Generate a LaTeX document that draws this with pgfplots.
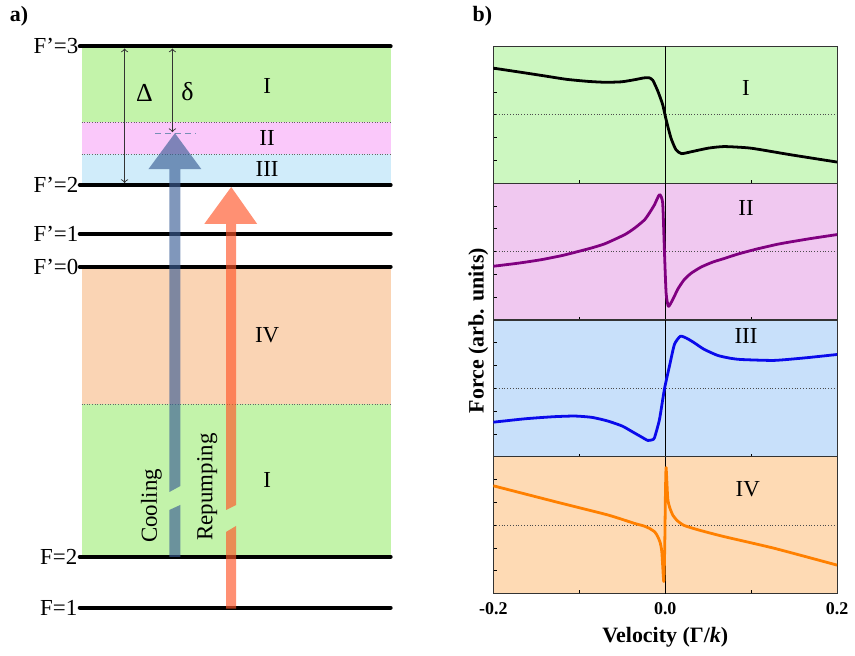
\documentclass[border=0pt]{standalone}
\usepackage{pgfplots}
\pgfplotsset{compat=1.18}
\usepackage{fontspec}
\setmainfont{Liberation Serif}
\definecolor{lgreen}{RGB}{195,243,170}
\definecolor{lpink}{RGB}{250,200,250}
\definecolor{lblue}{RGB}{208,236,250}
\definecolor{lorange}{RGB}{250,212,180}
\definecolor{pgreen}{RGB}{204,247,192}
\definecolor{ppink}{RGB}{240,200,240}
\definecolor{pblue}{RGB}{200,224,250}
\definecolor{porange}{RGB}{254,218,180}
\definecolor{cpurple}{RGB}{128,0,128}
\definecolor{cblue}{RGB}{10,10,235}
\definecolor{corange}{RGB}{255,128,0}
\definecolor{arrblue}{RGB}{60,95,150}
\definecolor{arrorange}{RGB}{255,85,40}
\newcommand{\lab}{\fontsize{11.5}{13}\selectfont}
\pgfplotsset{
  panel/.style={
    scale only axis, width=172.5pt, height=68.625pt,
    xmin=-0.2, xmax=0.2, ymin=-3, ymax=3,
    ytick={-2,-1,0,1,2}, yticklabels={},
    xtick={-0.1,0.1}, xticklabels={},
    tick align=inside, major tick length=1.6pt,
    xtick pos=bottom, ytick pos=left,
    axis line style={line width=0.6pt, black!80},
    tick style={line width=0.5pt, black},
    clip=true, anchor=north west,
  },
  curve/.style={line width=1.4pt, smooth, tension=0.35, line join=round},
}
\begin{document}
\begin{tikzpicture}
% ---------- canvas axis (left diagram, in pixel units) ----------
\begin{axis}[
  at={(0pt,0pt)}, anchor=north west,
  scale only axis, width=427.5pt, height=328pt,
  xmin=0, xmax=855, ymin=0, ymax=656, y dir=reverse,
  hide axis, clip=false]
\path (axis cs:0,0) rectangle (axis cs:855,656);
% regions
\fill[lgreen]  (axis cs:82,47)  rectangle (axis cs:392,121);
\fill[lpink]   (axis cs:82,121) rectangle (axis cs:392,153);
\fill[lblue]   (axis cs:82,153) rectangle (axis cs:392,183);
\fill[lorange] (axis cs:82,266) rectangle (axis cs:392,404);
\fill[lgreen]  (axis cs:82,404) rectangle (axis cs:392,557);
\draw[densely dotted, line width=0.3pt, black!60] (axis cs:82,121) -- (axis cs:392,121);
\draw[densely dotted, line width=0.3pt, black!60] (axis cs:82,153) -- (axis cs:392,153);
\draw[densely dotted, line width=0.3pt, black!60] (axis cs:82,404) -- (axis cs:392,404);
% levels
\pgfplotsinvokeforeach{45,184,233,266,557,608}{
  \draw[line width=2pt, line cap=round] (axis cs:80,#1) -- (axis cs:392,#1);
}
\node[anchor=east, inner sep=0pt, font=\lab] at (axis cs:79,45) {F’=3};
\node[anchor=east, inner sep=0pt, font=\lab] at (axis cs:79,184) {F’=2};
\node[anchor=east, inner sep=0pt, font=\lab] at (axis cs:79,233) {F’=1};
\node[anchor=east, inner sep=0pt, font=\lab] at (axis cs:79,266) {F’=0};
\node[anchor=east, inner sep=0pt, font=\lab] at (axis cs:78,557) {F=2};
\node[anchor=east, inner sep=0pt, font=\lab] at (axis cs:78,608) {F=1};
% Delta, delta
\draw[<->, >=to, line width=0.45pt, black!80] (axis cs:125,47) -- (axis cs:125,182);
\draw[<->, >=to, line width=0.45pt, black!80] (axis cs:173,47) -- (axis cs:173,131);
\draw[densely dashed, line width=0.4pt, arrblue!70] (axis cs:156,132) -- (axis cs:197,132);
\node[font=\fontsize{13}{14}\selectfont] at (axis cs:145,92) {Δ};
\node[font=\fontsize{13}{14}\selectfont] at (axis cs:188,90) {δ};
% arrows
\fill[arrblue, opacity=0.65] (axis cs:170,557) -- (axis cs:170,510) -- (axis cs:181,505) -- (axis cs:181,557) -- cycle;
\fill[arrblue, opacity=0.65] (axis cs:170,492) -- (axis cs:181,486) -- (axis cs:181,168) -- (axis cs:202,168) -- (axis cs:175.5,132) -- (axis cs:149,168) -- (axis cs:170,168) -- cycle;
\fill[arrorange, opacity=0.65] (axis cs:227,609) -- (axis cs:227,532) -- (axis cs:237,526) -- (axis cs:237,609) -- cycle;
\fill[arrorange, opacity=0.65] (axis cs:227,510) -- (axis cs:237,505) -- (axis cs:237,223) -- (axis cs:258,223) -- (axis cs:232,186) -- (axis cs:205,223) -- (axis cs:227,223) -- cycle;
% texts
\node[rotate=90, font=\lab] at (axis cs:152,506) {Cooling};
\node[rotate=90, font=\lab] at (axis cs:208,487) {Repumping};
\node[font=\lab] at (axis cs:268,85) {I};
\node[font=\lab] at (axis cs:268,137) {II};
\node[font=\lab] at (axis cs:268,168) {III};
\node[font=\lab] at (axis cs:268,335) {IV};
\node[font=\lab] at (axis cs:268,480) {I};
\node[font=\bfseries\fontsize{11}{12}\selectfont] at (axis cs:19,15) {a)};
\node[font=\bfseries\fontsize{11}{12}\selectfont] at (axis cs:484,15) {b)};
\node[rotate=90, font=\bfseries\fontsize{11}{12}\selectfont] at (axis cs:480,330) {Force (arb. units)};
\end{axis}
% ---------- panel I ----------
\begin{axis}[panel, at={(247.5pt,-22.5pt)}, axis background/.style={fill=pgreen}]
\addplot[densely dotted, line width=0.4pt, black!70] coordinates {(-0.2,0) (0.2,0)};
\addplot[line width=0.5pt, black] coordinates {(0,-3) (0,3)};
\addplot[curve, black] coordinates {
(-0.2,2.05) (-0.17,1.88) (-0.144,1.73) (-0.115,1.56) (-0.09,1.47) (-0.07,1.43) (-0.051,1.45)
(-0.036,1.54) (-0.025,1.62) (-0.019,1.63) (-0.0145,1.52) (-0.0087,1.05) (-0.003,0.45)
(0.001,-0.21) (0.0067,-1.02) (0.0125,-1.53) (0.019,-1.70) (0.030,-1.62) (0.05,-1.46)
(0.0686,-1.39) (0.0995,-1.46) (0.146,-1.75) (0.2,-2.07)};
\node[font=\lab] at (axis cs:0.094,1.17) {I};
\end{axis}
% ---------- panel II ----------
\begin{axis}[panel, at={(247.5pt,-91.125pt)}, axis background/.style={fill=ppink}]
\addplot[densely dotted, line width=0.4pt, black!70] coordinates {(-0.2,0) (0.2,0)};
\addplot[line width=0.5pt, black] coordinates {(0,-3) (0,3)};
\addplot[curve, cpurple] coordinates {
(-0.2,-0.64) (-0.17,-0.50) (-0.144,-0.35) (-0.12,-0.17) (-0.1,0.02) (-0.086,0.16) (-0.07,0.35)
(-0.047,0.75) (-0.035,1.05) (-0.024,1.40) (-0.018,1.72) (-0.0125,2.06)
(-0.0067,2.50) (-0.003,2.14) (-0.001,0.09) (0.001,-1.81) (0.0037,-2.40) (0.0087,-2.1)
(0.015,-1.62) (0.022,-1.23) (0.03,-0.95) (0.0415,-0.68) (0.055,-0.46) (0.0686,-0.30) (0.085,-0.10)
(0.107,0.12) (0.13,0.32) (0.146,0.43) (0.17,0.58) (0.2,0.75)};
\node[font=\lab] at (axis cs:0.094,1.93) {II};
\end{axis}
% ---------- panel III ----------
\begin{axis}[panel, at={(247.5pt,-159.75pt)}, axis background/.style={fill=pblue}]
\addplot[densely dotted, line width=0.4pt, black!70] coordinates {(-0.2,0) (0.2,0)};
\addplot[line width=0.5pt, black] coordinates {(0,-3) (0,3)};
\addplot[curve, cblue] coordinates {
(-0.2,-1.48) (-0.163,-1.33) (-0.13,-1.24) (-0.105,-1.21) (-0.085,-1.27) (-0.0667,-1.43)
(-0.05,-1.65) (-0.0396,-1.87) (-0.028,-2.12) (-0.0203,-2.28) (-0.015,-2.25)
(-0.0125,-2.16) (-0.0067,-1.36) (-0.001,-0.04) (0.0049,0.98) (0.0107,1.93) (0.0176,2.29)
(0.025,2.2) (0.0339,2.0) (0.045,1.72) (0.0609,1.45) (0.075,1.33) (0.088,1.27) (0.1267,1.23)
(0.165,1.35) (0.2,1.49)};
\node[font=\lab] at (axis cs:0.094,2.32) {III};
\end{axis}
% ---------- panel IV ----------
\begin{axis}[panel, at={(247.5pt,-228.375pt)}, axis background/.style={fill=porange},
  xtick={-0.2,-0.1,0,0.1,0.2}, xticklabels={-0.2,,0.0,,0.2},
  xticklabel style={font=\bfseries\fontsize{9}{10}\selectfont, yshift=-1pt},
  xlabel={Velocity (Γ/\textit{k})},
  xlabel style={font=\bfseries\fontsize{11}{12}\selectfont, at={(axis description cs:0.5,-0.32)}, anchor=center}]
\addplot[densely dotted, line width=0.4pt, black!70] coordinates {(-0.2,0) (0.2,0)};
\addplot[line width=0.5pt, black] coordinates {(0,-3) (0,3)};
\addplot[curve, corange] coordinates {
(-0.2,1.73) (-0.1246,1.0) (-0.0667,0.45) (-0.0357,0.08) (-0.025,-0.03) (-0.0183,-0.14)
(-0.012,-0.30) (-0.0087,-0.50) (-0.006,-0.75) (-0.004,-1.16) (-0.0017,-2.47) (-0.0006,-1.0)
(0.0002,1.33) (0.001,2.53) (0.0029,1.18) (0.005,0.8) (0.0087,0.45) (0.014,0.2) (0.022,-0.01)
(0.04,-0.22) (0.0686,-0.50) (0.1267,-1.01) (0.2,-1.75)};
\node[font=\lab] at (axis cs:0.096,1.6) {IV};
\end{axis}
\end{tikzpicture}
\end{document}
